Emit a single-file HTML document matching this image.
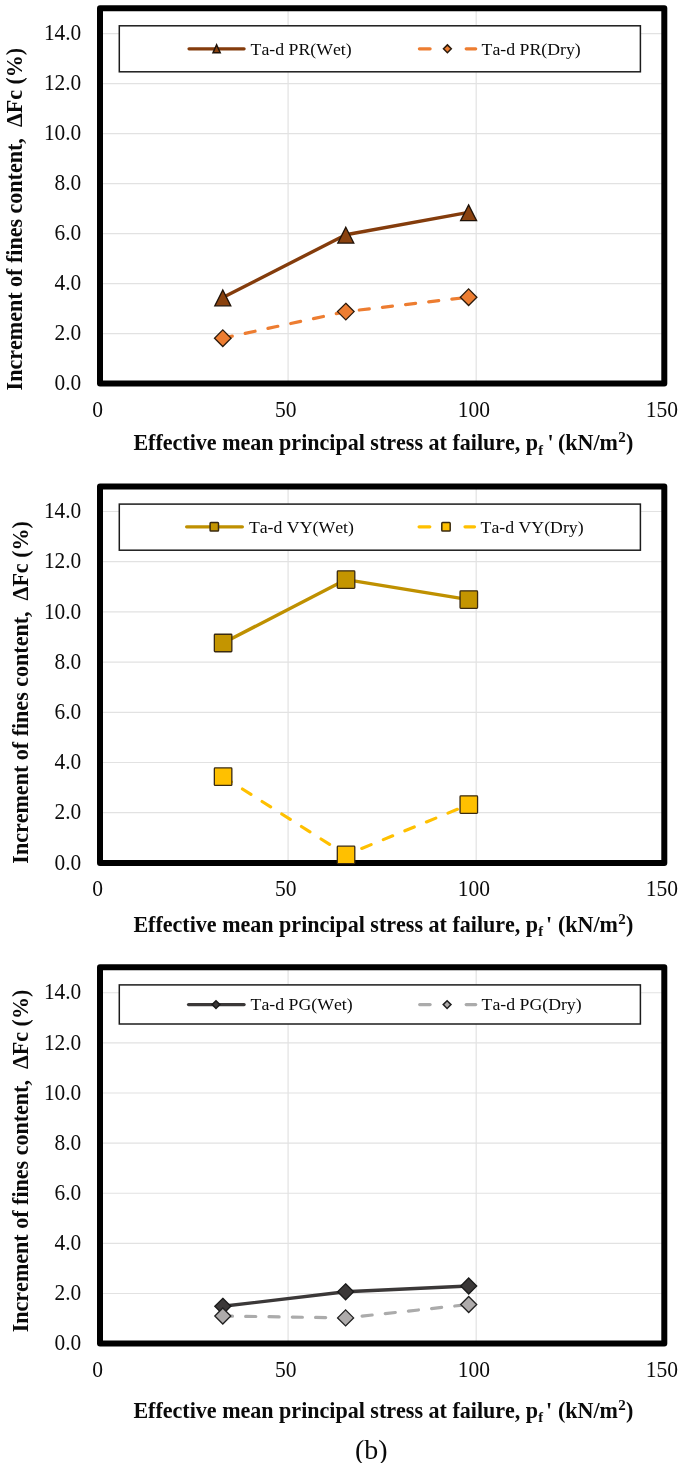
<!DOCTYPE html>
<html><head><meta charset="utf-8"><title>Increment of fines content</title>
<style>
html,body{margin:0;padding:0;background:#fff;}
svg{display:block;will-change:transform;font-family:"Liberation Serif",serif;fill:#0a0a0a;font-kerning:none;}
</style></head>
<body>
<svg width="685" height="1463" viewBox="0 0 685 1463">
<rect width="685" height="1463" fill="#fff"/>
<line x1="100.0" x2="664.3" y1="333.60" y2="333.60" stroke="#e2e2e2" stroke-width="1.2"/>
<line x1="100.0" x2="664.3" y1="283.60" y2="283.60" stroke="#e2e2e2" stroke-width="1.2"/>
<line x1="100.0" x2="664.3" y1="233.60" y2="233.60" stroke="#e2e2e2" stroke-width="1.2"/>
<line x1="100.0" x2="664.3" y1="183.60" y2="183.60" stroke="#e2e2e2" stroke-width="1.2"/>
<line x1="100.0" x2="664.3" y1="133.60" y2="133.60" stroke="#e2e2e2" stroke-width="1.2"/>
<line x1="100.0" x2="664.3" y1="83.60" y2="83.60" stroke="#e2e2e2" stroke-width="1.2"/>
<line x1="100.0" x2="664.3" y1="33.60" y2="33.60" stroke="#e2e2e2" stroke-width="1.2"/>
<line x1="288.10" x2="288.10" y1="8.2" y2="383.6" stroke="#e2e2e2" stroke-width="1.2"/>
<line x1="476.20" x2="476.20" y1="8.2" y2="383.6" stroke="#e2e2e2" stroke-width="1.2"/>
<rect x="100.0" y="8.2" width="564.30" height="375.40" fill="none" stroke="#000" stroke-width="6" stroke-linejoin="round"/>
<rect x="119.3" y="25.8" width="521.10" height="46.00" fill="#fff" stroke="#1c1c1c" stroke-width="1.5"/>
<text transform="translate(81.30,390.30) scale(0.968,1)" font-size="22.1" text-anchor="end">0.0</text>
<text transform="translate(81.30,340.30) scale(0.968,1)" font-size="22.1" text-anchor="end">2.0</text>
<text transform="translate(81.30,290.30) scale(0.968,1)" font-size="22.1" text-anchor="end">4.0</text>
<text transform="translate(81.30,240.30) scale(0.968,1)" font-size="22.1" text-anchor="end">6.0</text>
<text transform="translate(81.30,190.30) scale(0.968,1)" font-size="22.1" text-anchor="end">8.0</text>
<text transform="translate(81.30,140.30) scale(0.968,1)" font-size="22.1" text-anchor="end">10.0</text>
<text transform="translate(81.30,90.30) scale(0.968,1)" font-size="22.1" text-anchor="end">12.0</text>
<text transform="translate(81.30,40.30) scale(0.968,1)" font-size="22.1" text-anchor="end">14.0</text>
<text transform="translate(97.60,417.20) scale(0.975,1)" font-size="22.1" text-anchor="middle">0</text>
<text transform="translate(285.70,417.20) scale(0.975,1)" font-size="22.1" text-anchor="middle">50</text>
<text transform="translate(473.80,417.20) scale(0.975,1)" font-size="22.1" text-anchor="middle">100</text>
<text transform="translate(661.90,417.20) scale(0.975,1)" font-size="22.1" text-anchor="middle">150</text>
<text transform="translate(133.40,450.20) scale(1.0,1)" font-size="22.05" text-anchor="start" font-weight="bold">Effective mean principal stress at failure, p<tspan font-size="14.5" dy="4.5">f</tspan><tspan dy="-4.5" dx="4.6">'</tspan><tspan dx="4.2">(kN/m</tspan><tspan font-size="15" dy="-8" dx="0.3">2</tspan><tspan dy="8" dx="0.3">)</tspan></text>
<text transform="translate(22.1,390.40) rotate(-90)" font-size="22.05" font-weight="bold">Increment of fines content,&#160; ΔFc (%)</text>
<polyline points="222.80,297.50 345.80,234.75 468.60,212.30" fill="none" stroke="#843c0c" stroke-width="3.4" stroke-linecap="round" stroke-linejoin="round"/>
<path d="M222.80,290.05 L230.80,305.85 L214.80,305.85 Z" fill="#8a420f" stroke="#1f1208" stroke-width="1.3" stroke-linejoin="miter"/>
<path d="M345.80,227.30 L353.80,243.10 L337.80,243.10 Z" fill="#8a420f" stroke="#1f1208" stroke-width="1.3" stroke-linejoin="miter"/>
<path d="M468.60,204.85 L476.60,220.65 L460.60,220.65 Z" fill="#8a420f" stroke="#1f1208" stroke-width="1.3" stroke-linejoin="miter"/>
<polyline points="222.80,338.20 345.80,311.60 468.60,297.20" fill="none" stroke="#ed7d31" stroke-width="3.2" stroke-linecap="round" stroke-linejoin="round" stroke-dasharray="10.1 13.2" stroke-dashoffset="0.4"/>
<path d="M222.80,329.90 L231.10,338.20 L222.80,346.50 L214.50,338.20 Z" fill="#ed7d31" stroke="#2b1a0c" stroke-width="1.3" stroke-linejoin="miter"/>
<path d="M345.80,303.30 L354.10,311.60 L345.80,319.90 L337.50,311.60 Z" fill="#ed7d31" stroke="#2b1a0c" stroke-width="1.3" stroke-linejoin="miter"/>
<path d="M468.60,288.90 L476.90,297.20 L468.60,305.50 L460.30,297.20 Z" fill="#ed7d31" stroke="#2b1a0c" stroke-width="1.3" stroke-linejoin="miter"/>
<line x1="189.0" x2="244.1" y1="48.8" y2="48.8" stroke="#843c0c" stroke-width="3.2" stroke-linecap="round"/>
<path d="M216.60,44.80 L220.20,52.80 L213.00,52.80 Z" fill="#8a420f" stroke="#1f1208" stroke-width="1.5" stroke-linejoin="miter"/>
<text transform="translate(250.60,54.60) scale(1.0,1)" font-size="17.75" text-anchor="start">Ta-d PR(Wet)</text>
<line x1="419.4" x2="430.1" y1="48.8" y2="48.8" stroke="#ed7d31" stroke-width="3.2" stroke-linecap="round"/>
<line x1="466.2" x2="475.7" y1="48.8" y2="48.8" stroke="#ed7d31" stroke-width="3.2" stroke-linecap="round"/>
<path d="M447.40,44.90 L451.30,48.80 L447.40,52.70 L443.50,48.80 Z" fill="#ed7d31" stroke="#2b1a0c" stroke-width="1.5" stroke-linejoin="miter"/>
<text transform="translate(481.60,54.60) scale(1.0,1)" font-size="17.75" text-anchor="start">Ta-d PR(Dry)</text>
<line x1="100.0" x2="664.3" y1="812.70" y2="812.70" stroke="#e2e2e2" stroke-width="1.2"/>
<line x1="100.0" x2="664.3" y1="762.50" y2="762.50" stroke="#e2e2e2" stroke-width="1.2"/>
<line x1="100.0" x2="664.3" y1="712.30" y2="712.30" stroke="#e2e2e2" stroke-width="1.2"/>
<line x1="100.0" x2="664.3" y1="662.10" y2="662.10" stroke="#e2e2e2" stroke-width="1.2"/>
<line x1="100.0" x2="664.3" y1="611.90" y2="611.90" stroke="#e2e2e2" stroke-width="1.2"/>
<line x1="100.0" x2="664.3" y1="561.70" y2="561.70" stroke="#e2e2e2" stroke-width="1.2"/>
<line x1="100.0" x2="664.3" y1="511.50" y2="511.50" stroke="#e2e2e2" stroke-width="1.2"/>
<line x1="288.10" x2="288.10" y1="486.4" y2="862.9" stroke="#e2e2e2" stroke-width="1.2"/>
<line x1="476.20" x2="476.20" y1="486.4" y2="862.9" stroke="#e2e2e2" stroke-width="1.2"/>
<rect x="100.0" y="486.4" width="564.30" height="376.50" fill="none" stroke="#000" stroke-width="6" stroke-linejoin="round"/>
<rect x="119.3" y="504.1" width="521.10" height="46.10" fill="#fff" stroke="#1c1c1c" stroke-width="1.5"/>
<text transform="translate(81.30,869.60) scale(0.968,1)" font-size="22.1" text-anchor="end">0.0</text>
<text transform="translate(81.30,819.40) scale(0.968,1)" font-size="22.1" text-anchor="end">2.0</text>
<text transform="translate(81.30,769.20) scale(0.968,1)" font-size="22.1" text-anchor="end">4.0</text>
<text transform="translate(81.30,719.00) scale(0.968,1)" font-size="22.1" text-anchor="end">6.0</text>
<text transform="translate(81.30,668.80) scale(0.968,1)" font-size="22.1" text-anchor="end">8.0</text>
<text transform="translate(81.30,618.60) scale(0.968,1)" font-size="22.1" text-anchor="end">10.0</text>
<text transform="translate(81.30,568.40) scale(0.968,1)" font-size="22.1" text-anchor="end">12.0</text>
<text transform="translate(81.30,518.20) scale(0.968,1)" font-size="22.1" text-anchor="end">14.0</text>
<text transform="translate(97.60,896.40) scale(0.975,1)" font-size="22.1" text-anchor="middle">0</text>
<text transform="translate(285.70,896.40) scale(0.975,1)" font-size="22.1" text-anchor="middle">50</text>
<text transform="translate(473.80,896.40) scale(0.975,1)" font-size="22.1" text-anchor="middle">100</text>
<text transform="translate(661.90,896.40) scale(0.975,1)" font-size="22.1" text-anchor="middle">150</text>
<text transform="translate(133.40,931.80) scale(1.0,1)" font-size="22.05" text-anchor="start" font-weight="bold">Effective mean principal stress at failure, p<tspan font-size="14.5" dy="4.5">f</tspan><tspan dy="-4.5" dx="3.1">'</tspan><tspan dx="5.7">(kN/m</tspan><tspan font-size="15" dy="-8" dx="0.3">2</tspan><tspan dy="8" dx="0.3">)</tspan></text>
<text transform="translate(27.7,863.70) rotate(-90)" font-size="22.05" font-weight="bold">Increment of fines content,&#160; ΔFc (%)</text>
<polyline points="223.10,643.00 346.05,579.60 468.80,599.60" fill="none" stroke="#bf9000" stroke-width="3.4" stroke-linecap="round" stroke-linejoin="round"/>
<rect x="214.35" y="634.25" width="17.50" height="17.50" rx="0.8" fill="#c49500" stroke="#3a2a10" stroke-width="1.3"/>
<rect x="337.30" y="570.85" width="17.50" height="17.50" rx="0.8" fill="#c49500" stroke="#3a2a10" stroke-width="1.3"/>
<rect x="460.05" y="590.85" width="17.50" height="17.50" rx="0.8" fill="#c49500" stroke="#3a2a10" stroke-width="1.3"/>
<polyline points="223.10,776.70 346.05,854.90 468.80,804.60" fill="none" stroke="#ffc000" stroke-width="3.2" stroke-linecap="round" stroke-linejoin="round" stroke-dasharray="10.1 13.2" stroke-dashoffset="0.4"/>
<rect x="214.35" y="767.95" width="17.50" height="17.50" rx="0.8" fill="#ffc000" stroke="#3a2a10" stroke-width="1.3"/>
<rect x="337.30" y="846.15" width="17.50" height="17.50" rx="0.8" fill="#ffc000" stroke="#3a2a10" stroke-width="1.3"/>
<rect x="460.05" y="795.85" width="17.50" height="17.50" rx="0.8" fill="#ffc000" stroke="#3a2a10" stroke-width="1.3"/>
<line x1="186.6" x2="242.4" y1="526.8" y2="526.8" stroke="#bf9000" stroke-width="3.2" stroke-linecap="round"/>
<rect x="210.10" y="522.60" width="8.40" height="8.40" rx="0.8" fill="#c49500" stroke="#3a2a10" stroke-width="1.5"/>
<text transform="translate(248.90,532.60) scale(1.0,1)" font-size="17.75" text-anchor="start">Ta-d VY(Wet)</text>
<line x1="419.1" x2="429.8" y1="526.8" y2="526.8" stroke="#ffc000" stroke-width="3.2" stroke-linecap="round"/>
<line x1="465.0" x2="474.5" y1="526.8" y2="526.8" stroke="#ffc000" stroke-width="3.2" stroke-linecap="round"/>
<rect x="441.80" y="522.60" width="8.40" height="8.40" rx="0.8" fill="#ffc000" stroke="#3a2a10" stroke-width="1.5"/>
<text transform="translate(480.60,532.60) scale(1.0,1)" font-size="17.75" text-anchor="start">Ta-d VY(Dry)</text>
<line x1="100.0" x2="664.3" y1="1293.48" y2="1293.48" stroke="#e2e2e2" stroke-width="1.2"/>
<line x1="100.0" x2="664.3" y1="1243.36" y2="1243.36" stroke="#e2e2e2" stroke-width="1.2"/>
<line x1="100.0" x2="664.3" y1="1193.24" y2="1193.24" stroke="#e2e2e2" stroke-width="1.2"/>
<line x1="100.0" x2="664.3" y1="1143.12" y2="1143.12" stroke="#e2e2e2" stroke-width="1.2"/>
<line x1="100.0" x2="664.3" y1="1093.00" y2="1093.00" stroke="#e2e2e2" stroke-width="1.2"/>
<line x1="100.0" x2="664.3" y1="1042.88" y2="1042.88" stroke="#e2e2e2" stroke-width="1.2"/>
<line x1="100.0" x2="664.3" y1="992.76" y2="992.76" stroke="#e2e2e2" stroke-width="1.2"/>
<line x1="288.10" x2="288.10" y1="967.3" y2="1343.6" stroke="#e2e2e2" stroke-width="1.2"/>
<line x1="476.20" x2="476.20" y1="967.3" y2="1343.6" stroke="#e2e2e2" stroke-width="1.2"/>
<rect x="100.0" y="967.3" width="564.30" height="376.30" fill="none" stroke="#000" stroke-width="6" stroke-linejoin="round"/>
<rect x="119.3" y="984.9" width="521.10" height="39.10" fill="#fff" stroke="#1c1c1c" stroke-width="1.5"/>
<text transform="translate(81.30,1350.30) scale(0.968,1)" font-size="22.1" text-anchor="end">0.0</text>
<text transform="translate(81.30,1300.18) scale(0.968,1)" font-size="22.1" text-anchor="end">2.0</text>
<text transform="translate(81.30,1250.06) scale(0.968,1)" font-size="22.1" text-anchor="end">4.0</text>
<text transform="translate(81.30,1199.94) scale(0.968,1)" font-size="22.1" text-anchor="end">6.0</text>
<text transform="translate(81.30,1149.82) scale(0.968,1)" font-size="22.1" text-anchor="end">8.0</text>
<text transform="translate(81.30,1099.70) scale(0.968,1)" font-size="22.1" text-anchor="end">10.0</text>
<text transform="translate(81.30,1049.58) scale(0.968,1)" font-size="22.1" text-anchor="end">12.0</text>
<text transform="translate(81.30,999.46) scale(0.968,1)" font-size="22.1" text-anchor="end">14.0</text>
<text transform="translate(97.60,1377.40) scale(0.975,1)" font-size="22.1" text-anchor="middle">0</text>
<text transform="translate(285.70,1377.40) scale(0.975,1)" font-size="22.1" text-anchor="middle">50</text>
<text transform="translate(473.80,1377.40) scale(0.975,1)" font-size="22.1" text-anchor="middle">100</text>
<text transform="translate(661.90,1377.40) scale(0.975,1)" font-size="22.1" text-anchor="middle">150</text>
<text transform="translate(133.40,1417.60) scale(1.0,1)" font-size="22.05" text-anchor="start" font-weight="bold">Effective mean principal stress at failure, p<tspan font-size="14.5" dy="4.5">f</tspan><tspan dy="-4.5" dx="3.1">'</tspan><tspan dx="5.7">(kN/m</tspan><tspan font-size="15" dy="-8" dx="0.3">2</tspan><tspan dy="8" dx="0.3">)</tspan></text>
<text transform="translate(27.7,1332.30) rotate(-90)" font-size="22.05" font-weight="bold">Increment of fines content,&#160; ΔFc (%)</text>
<polyline points="222.80,1306.30 345.60,1291.80 468.70,1286.00" fill="none" stroke="#3b3838" stroke-width="3.4" stroke-linecap="round" stroke-linejoin="round"/>
<path d="M222.80,1298.30 L230.80,1306.30 L222.80,1314.30 L214.80,1306.30 Z" fill="#3b3838" stroke="#1a1a1a" stroke-width="1.3" stroke-linejoin="miter"/>
<path d="M345.60,1283.80 L353.60,1291.80 L345.60,1299.80 L337.60,1291.80 Z" fill="#3b3838" stroke="#1a1a1a" stroke-width="1.3" stroke-linejoin="miter"/>
<path d="M468.70,1278.00 L476.70,1286.00 L468.70,1294.00 L460.70,1286.00 Z" fill="#3b3838" stroke="#1a1a1a" stroke-width="1.3" stroke-linejoin="miter"/>
<polyline points="222.80,1316.00 345.60,1317.90 468.70,1304.50" fill="none" stroke="#ababab" stroke-width="3.2" stroke-linecap="round" stroke-linejoin="round" stroke-dasharray="10.1 13.2" stroke-dashoffset="0.4"/>
<path d="M222.80,1308.00 L230.80,1316.00 L222.80,1324.00 L214.80,1316.00 Z" fill="#aeabab" stroke="#1f1f1f" stroke-width="1.3" stroke-linejoin="miter"/>
<path d="M345.60,1309.90 L353.60,1317.90 L345.60,1325.90 L337.60,1317.90 Z" fill="#aeabab" stroke="#1f1f1f" stroke-width="1.3" stroke-linejoin="miter"/>
<path d="M468.70,1296.50 L476.70,1304.50 L468.70,1312.50 L460.70,1304.50 Z" fill="#aeabab" stroke="#1f1f1f" stroke-width="1.3" stroke-linejoin="miter"/>
<line x1="188.5" x2="244.1" y1="1004.6" y2="1004.6" stroke="#3b3838" stroke-width="3.2" stroke-linecap="round"/>
<path d="M216.00,1000.70 L219.90,1004.60 L216.00,1008.50 L212.10,1004.60 Z" fill="#3b3838" stroke="#1a1a1a" stroke-width="1.5" stroke-linejoin="miter"/>
<text transform="translate(250.60,1010.40) scale(1.0,1)" font-size="17.75" text-anchor="start">Ta-d PG(Wet)</text>
<line x1="419.7" x2="430.1" y1="1004.6" y2="1004.6" stroke="#ababab" stroke-width="3.2" stroke-linecap="round"/>
<line x1="466.2" x2="475.7" y1="1004.6" y2="1004.6" stroke="#ababab" stroke-width="3.2" stroke-linecap="round"/>
<path d="M447.10,1000.70 L451.00,1004.60 L447.10,1008.50 L443.20,1004.60 Z" fill="#aeabab" stroke="#1f1f1f" stroke-width="1.5" stroke-linejoin="miter"/>
<text transform="translate(481.60,1010.40) scale(1.0,1)" font-size="17.75" text-anchor="start">Ta-d PG(Dry)</text>
<text transform="translate(371.30,1458.70) scale(1.0,1)" font-size="28" text-anchor="middle">(b)</text>
</svg>
</body></html>
